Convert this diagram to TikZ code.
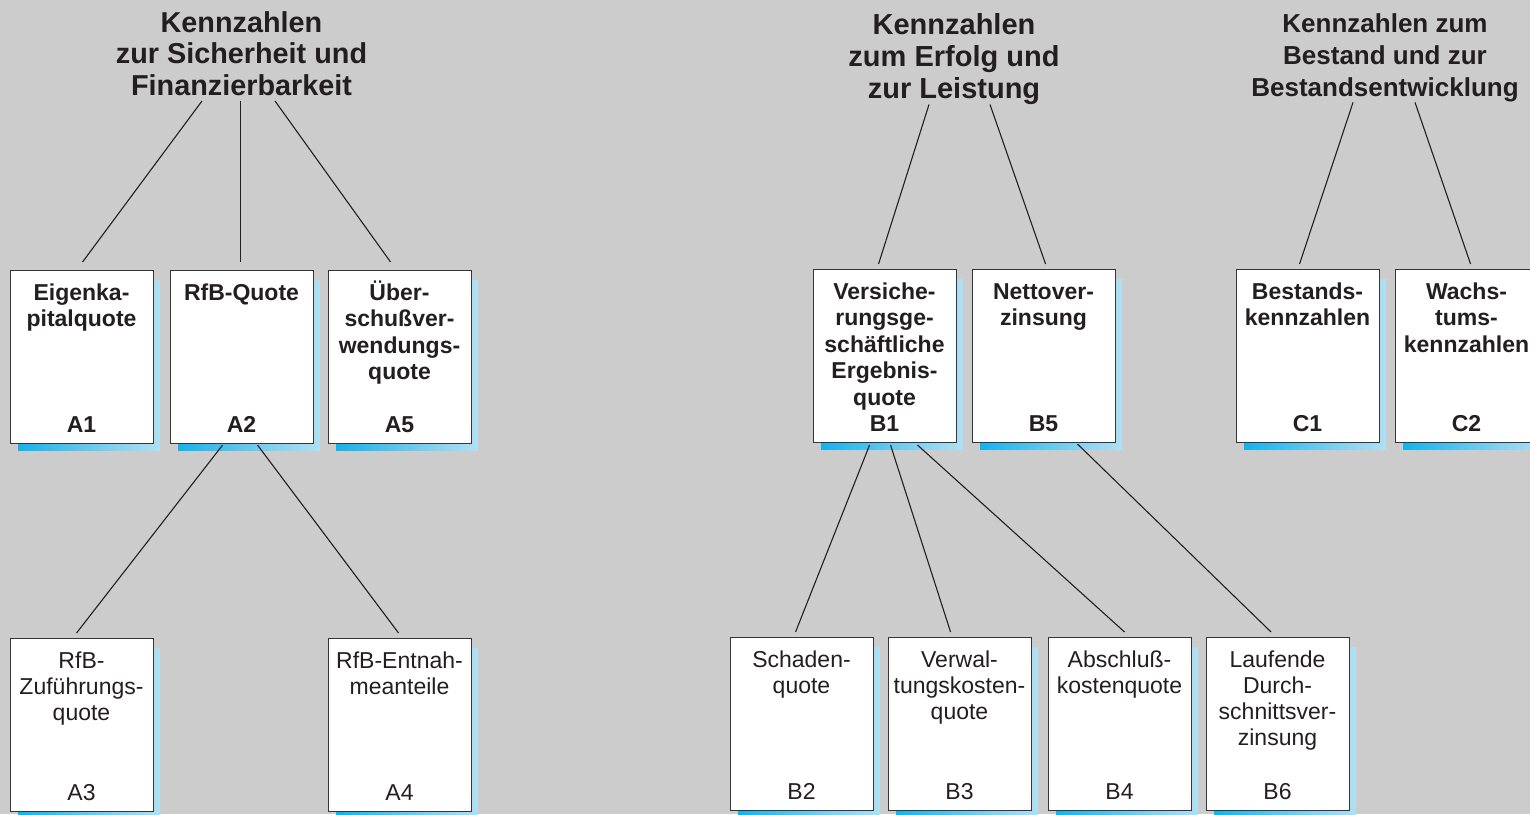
\documentclass[tikz,border=0pt]{standalone}
\usepackage{fontspec}
\setmainfont{Liberation Sans}
\usetikzlibrary{calc}
\definecolor{bg}{RGB}{204,204,204}
\definecolor{ink}{RGB}{35,31,32}
\definecolor{kcA}{RGB}{0,164,226}
\definecolor{kcAA}{RGB}{20,178,235}
\definecolor{kcB}{RGB}{135,210,240}
\definecolor{kcC}{RGB}{216,237,247}
\pgfdeclarehorizontalshading{kshadow}{100bp}{color(0bp)=(kcA); color(25bp)=(kcAA); color(60bp)=(kcB); color(90bp)=(kcC); color(100bp)=(kcC)}
\tikzset{
  kbox/.style={draw=ink!90, line width=1.1bp, fill=white, minimum width=143bp, minimum height=173bp, inner sep=0pt, anchor=north west},
  ktitle/.style={anchor=north, align=center, inner sep=0pt, text=ink},
  kid/.style={anchor=base, inner sep=0pt, text=ink},
  kbold/.style={font=\fontsize{23bp}{26.5bp}\selectfont\bfseries},
  klight/.style={font=\fontsize{23bp}{26bp}\selectfont},
  khead/.style={anchor=north, align=center, inner sep=0pt, text=ink},
  conn/.style={draw=ink, line width=1.1bp},
}
\newcommand\kbox[6]{%
  \shade[shading=kshadow] (#2+8,#3+10) rectangle (#2+150,#3+180);
  \node[kbox] (#1) at (#2,#3) {};
  \node[ktitle,#6] (#1t) at (#2+71.5,#3+7) {\rule{0pt}{1em}#4};
  \node[kid,#6] (#1l) at (#2+71.5,#3+162) {#5};
}
\begin{document}
\begin{tikzpicture}[x=1bp,y=-1bp]
\useasboundingbox (0,0) rectangle (1530,814);
\clip (0,0) rectangle (1530,814);
\fill[bg] (0,0) rectangle (1530,814);

% headings
\node[khead, font=\fontsize{28.8bp}{31.5bp}\selectfont\bfseries] (hA) at (241.5,3.5) {\rule{0pt}{1em}Kennzahlen\\zur Sicherheit und\\Finanzierbarkeit};
\node[khead, font=\fontsize{29bp}{32bp}\selectfont\bfseries] (hB) at (954,5) {\rule{0pt}{1em}Kennzahlen\\zum Erfolg und\\zur Leistung};
\node[khead, font=\fontsize{26bp}{32bp}\selectfont\bfseries] (hC) at (1385,6) {\rule{0pt}{1em}Kennzahlen zum\\Bestand und zur\\Bestandsentwicklung};

% top row
\kbox{A1}{10}{270}{Eigenka-\\pitalquote}{A1}{kbold}
\kbox{A2}{170}{270}{RfB-Quote}{A2}{kbold}
\kbox{A5}{328}{270}{Über-\\schußver-\\wendungs-\\quote}{A5}{kbold}
\kbox{B1}{813}{269}{Versiche-\\rungsge-\\schäftliche\\Ergebnis-\\quote}{B1}{kbold}
\kbox{B5}{972}{269}{Nettover-\\zinsung}{B5}{kbold}
\kbox{C1}{1236}{269}{Bestands-\\kennzahlen}{C1}{kbold}
\kbox{C2}{1395}{269}{Wachs-\\tums-\\kennzahlen}{C2}{kbold}

% bottom row
\kbox{A3}{10}{638}{RfB-\\Zuführungs-\\quote}{A3}{klight}
\kbox{A4}{328}{638}{RfB-Entnah-\\meanteile}{A4}{klight}
\kbox{B2}{730}{637}{Schaden-\\quote}{B2}{klight}
\kbox{B3}{888}{637}{Verwal-\\tungskosten-\\quote}{B3}{klight}
\kbox{B4}{1048}{637}{Abschluß-\\kostenquote}{B4}{klight}
\kbox{B6}{1206}{637}{Laufende\\Durch-\\schnittsver-\\zinsung}{B6}{klight}

% connectors
\draw[conn] ($(hA.south)+(-39.5,5)$) -- ($(A1.north)+(0.5,-8)$);
\draw[conn] ($(hA.south -| A2.north)+(-1.5,5)$) -- ($(A2.north)+(-1.5,-8)$);
\draw[conn] ($(hA.south)+(33.5,5)$) -- ($(A5.north)+(-9.5,-8)$);
\draw[conn] ($(hB.south)+(-25,0)$) -- ($(B1.north)+(-6.5,-5)$);
\draw[conn] ($(hB.south)+(36,0)$) -- ($(B5.north)+(1.5,-5)$);
\draw[conn] ($(hC.south)+(-32,0.5)$) -- ($(C1.north)+(-8.5,-5)$);
\draw[conn] ($(hC.south)+(30,0.5)$) -- ($(C2.north)+(3.5,-5)$);
\draw[conn] ($(A2.south)+(-19.5,1)$) -- ($(A3.north)+(-5.5,-5)$);
\draw[conn] ($(A2.south)+(15.5,1)$) -- ($(A4.north)+(-1.5,-5)$);
\draw[conn] ($(B1.south)+(-15.5,2)$) -- ($(B2.north)+(-6.5,-5)$);
\draw[conn] ($(B1.south)+(5.5,2)$) -- ($(B3.north)+(-9.5,-5)$);
\draw[conn] ($(B1.south)+(32.5,2)$) -- ($(B4.north)+(4.5,-5)$);
\draw[conn] ($(B5.south)+(33.5,1)$) -- ($(B6.north)+(-7,-5)$);
\end{tikzpicture}
\end{document}
